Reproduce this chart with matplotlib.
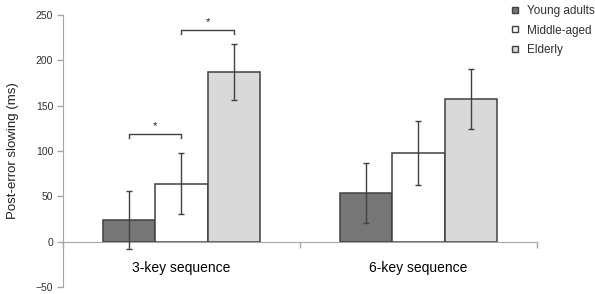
import matplotlib
matplotlib.use("Agg")
import matplotlib.pyplot as plt
from matplotlib.lines import Line2D
import numpy as np

plt.rcParams['font.family'] = ['Liberation Sans', 'DejaVu Sans']

categories = ['3-key sequence', '6-key sequence']
groups = ['Young adults', 'Middle-aged', 'Elderly']
young = [24, 54]
middle = [64, 97.5]
elderly = [187, 157.5]
young_err = [32, 33]
middle_err = [34, 35.5]
elderly_err = [30.5, 33]
yticks = [-50, 0, 50, 100, 150, 200, 250]
# significance brackets (group index pair, level) in 3-key sequence
brackets = [((0, 1), 119), ((1, 2), 234)]

colors = ['#767676', '#ffffff', '#d9d9d9']
edge = '#404040'
axis_col = '#a6a6a6'

fig = plt.figure(figsize=(5.95, 2.94), dpi=100)
ax = fig.add_axes([63/595, 1-287/294, (537-63)/595, (287-15)/294])

w = 0.222
centers = np.arange(len(categories)) + 0.5
series = [young, middle, elderly]
errs = [young_err, middle_err, elderly_err]
for i, (vals, e, c) in enumerate(zip(series, errs, colors)):
    x = centers + (i - 1) * w
    ax.bar(x, vals, width=w, color=c, edgecolor=edge, linewidth=1.1, zorder=2)
    ax.errorbar(x, vals, yerr=e, fmt='none', ecolor=edge, elinewidth=1,
                capsize=2, capthick=1, zorder=3)

for (a, b), lvl in brackets:
    xa = centers[0] + (a - 1) * w
    xb = centers[0] + (b - 1) * w
    ax.plot([xa, xa, xb, xb], [lvl - 4.5, lvl, lvl, lvl - 4.5], color=edge, lw=1, zorder=3)
    ax.text((xa + xb) / 2, lvl + 3, '*', ha='center', va='bottom', fontsize=8, color='#202020')

ax.set_xlim(0, 2)
ax.set_ylim(-50, 250)
ax.set_yticks(yticks)
ax.set_xticks([0, 1, 2])
ax.set_xticklabels([])
ax.set_xticks(centers, minor=True)
ax.set_xticklabels(categories, minor=True, fontsize=9.5, color='#202020')
ax.tick_params(axis='x', which='minor', length=0, pad=14)
ax.tick_params(axis='x', which='major', length=4, color=axis_col, width=1)
ax.tick_params(axis='y', length=4, color=axis_col, width=1, labelsize=7.5, labelcolor='#303030', pad=3)
for s in ['top', 'right']:
    ax.spines[s].set_visible(False)
ax.spines['bottom'].set_position(('data', 0))
ax.spines['bottom'].set_color(axis_col)
ax.spines['left'].set_color(axis_col)
ax.spines['left'].set_bounds(-50, 250)
ax.set_ylabel('Post-error slowing (ms)', fontsize=9.5, color='#202020')
ax.yaxis.set_label_coords(-44/474, 0.5)

handles = [Line2D([], [], marker='s', linestyle='none', markersize=5,
                  markerfacecolor=c, markeredgecolor=edge, markeredgewidth=1) for c in colors]
fig.legend(handles, groups, loc='upper left', bbox_to_anchor=(501/595, 1 + 3/294),
           frameon=False, fontsize=8.5, handlelength=1, handletextpad=0.5,
           labelspacing=0.62, borderpad=0.2, labelcolor='#303030')

fig.savefig('out.png', dpi=100)
